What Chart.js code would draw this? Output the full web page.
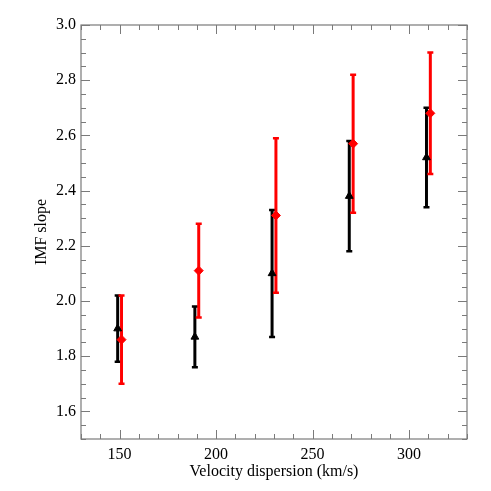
<!DOCTYPE html>
<html>
<head>
<meta charset="utf-8">
<script src="https://cdn.jsdelivr.net/npm/chart.js@4"></script>
<style>
  html, body { margin: 0; padding: 0; background: #fff; }
  #wrap { width: 491px; height: 491px; }
</style>
</head>
<body>
<div id="wrap"><canvas id="imf-chart"></canvas></div>
<script>
// velocity dispersion bins (black points sit a bit left, red a bit right)
const blackX = [149, 189, 229, 269, 309];
const blackY = [1.90, 1.87, 2.10, 2.38, 2.52];
const blackLo = [1.78, 1.76, 1.87, 2.18, 2.34];
const blackHi = [2.02, 1.98, 2.33, 2.58, 2.70];

const redX = [151, 191, 231, 271, 311];
const redY = [1.86, 2.11, 2.31, 2.57, 2.68];
const redLo = [1.70, 1.94, 2.03, 2.32, 2.46];
const redHi = [2.02, 2.28, 2.59, 2.82, 2.90];

const xLabelTicks = [150, 200, 250, 300];
const yLabelTicks = [1.6, 1.8, 2.0, 2.2, 2.4, 2.6, 2.8, 3.0];

const AXIS_COLOR = '#7a7a7a';
const FONT = 'Liberation Serif, Times New Roman, serif';

function toPoints(xs, ys) {
    return xs.map((x, i) => ({ x: x, y: ys[i] }));
}

function isLabelled(list, v) {
    return list.some(t => Math.abs(t - v) < 1e-6);
}

// error bars drawn with the chart's own scales
const errorBarPlugin = {
    id: 'errorBars',
    beforeDatasetsDraw(chart) {
        const ctx = chart.ctx;
        const xs = chart.scales.x;
        const ys = chart.scales.y;
        chart.data.datasets.forEach(ds => {
            ctx.save();
            ctx.strokeStyle = ds.borderColor;
            ds.data.forEach((p, i) => {
                const px = xs.getPixelForValue(p.x);
                const top = ys.getPixelForValue(ds.errHi[i]);
                const bot = ys.getPixelForValue(ds.errLo[i]);
                ctx.lineWidth = 3;
                ctx.beginPath();
                ctx.moveTo(px, top);
                ctx.lineTo(px, bot);
                ctx.stroke();
                ctx.lineWidth = 2.5;
                ctx.beginPath();
                ctx.moveTo(px - 3, top);
                ctx.lineTo(px + 3, top);
                ctx.moveTo(px - 3, bot);
                ctx.lineTo(px + 3, bot);
                ctx.stroke();
            });
            ctx.restore();
        });
    }
};

// IDL-style frame with inward major/minor ticks on all four sides
const framePlugin = {
    id: 'frame',
    afterDraw(chart) {
        const ctx = chart.ctx;
        const a = chart.chartArea;
        const xs = chart.scales.x;
        const ys = chart.scales.y;
        ctx.save();
        ctx.strokeStyle = AXIS_COLOR;
        ctx.lineWidth = 1.2;
        ctx.strokeRect(a.left, a.top, a.right - a.left, a.bottom - a.top);
        ctx.lineWidth = 1;
        ctx.beginPath();
        xs.ticks.forEach(t => {
            const px = Math.round(xs.getPixelForValue(t.value)) + 0.5;
            const len = isLabelled(xLabelTicks, t.value) ? 9 : 5;
            ctx.moveTo(px, a.bottom);
            ctx.lineTo(px, a.bottom - len);
            ctx.moveTo(px, a.top);
            ctx.lineTo(px, a.top + len);
        });
        ys.ticks.forEach(t => {
            const py = Math.round(ys.getPixelForValue(t.value)) + 0.5;
            const len = isLabelled(yLabelTicks, t.value) ? 9 : 5;
            ctx.moveTo(a.left, py);
            ctx.lineTo(a.left + len, py);
            ctx.moveTo(a.right, py);
            ctx.lineTo(a.right - len, py);
        });
        ctx.stroke();
        ctx.restore();
    }
};

const ctx = document.getElementById('imf-chart').getContext('2d');

new Chart(ctx, {
    type: 'scatter',
    data: {
        datasets: [{
            label: 'black',
            data: toPoints(blackX, blackY),
            errLo: blackLo,
            errHi: blackHi,
            borderColor: '#000000',
            backgroundColor: '#000000',
            pointStyle: 'triangle',
            pointRadius: 4.5,
            borderWidth: 1
        }, {
            label: 'red',
            data: toPoints(redX, redY),
            errLo: redLo,
            errHi: redHi,
            borderColor: '#ff0000',
            backgroundColor: '#ff0000',
            pointStyle: 'rectRot',
            pointRadius: 4.5,
            borderWidth: 1
        }]
    },
    options: {
        responsive: true,
        maintainAspectRatio: false,
        animation: false,
        layout: {
            padding: { left: 0, top: 25, right: 24, bottom: 0 }
        },
        plugins: {
            legend: { display: false },
            tooltip: { enabled: false }
        },
        scales: {
            x: {
                type: 'linear',
                min: 130,
                max: 330,
                grid: { display: false, drawTicks: false },
                border: { display: false },
                afterFit: scale => { scale.height = 52; },
                ticks: {
                    stepSize: 10,
                    autoSkip: false,
                    maxRotation: 0,
                    padding: 6,
                    color: '#000',
                    font: { family: FONT, size: 16 },
                    callback: v => isLabelled(xLabelTicks, v) ? String(v) : ''
                },
                title: {
                    display: true,
                    text: 'Velocity dispersion (km/s)',
                    color: '#000',
                    font: { family: FONT, size: 16 },
                    padding: { top: 0, bottom: 10 }
                }
            },
            y: {
                type: 'linear',
                min: 1.5,
                max: 3.0,
                grid: { display: false, drawTicks: false },
                border: { display: false },
                afterFit: scale => { scale.width = 81; },
                ticks: {
                    stepSize: 0.05,
                    autoSkip: false,
                    padding: 5,
                    color: '#000',
                    font: { family: FONT, size: 16 },
                    callback: v => isLabelled(yLabelTicks, v) ? v.toFixed(1) : ''
                },
                title: {
                    display: true,
                    text: 'IMF slope',
                    color: '#000',
                    font: { family: FONT, size: 16 },
                    padding: { top: 32, bottom: 0 }
                }
            }
        }
    },
    plugins: [errorBarPlugin, framePlugin]
});
</script>
</body>
</html>
